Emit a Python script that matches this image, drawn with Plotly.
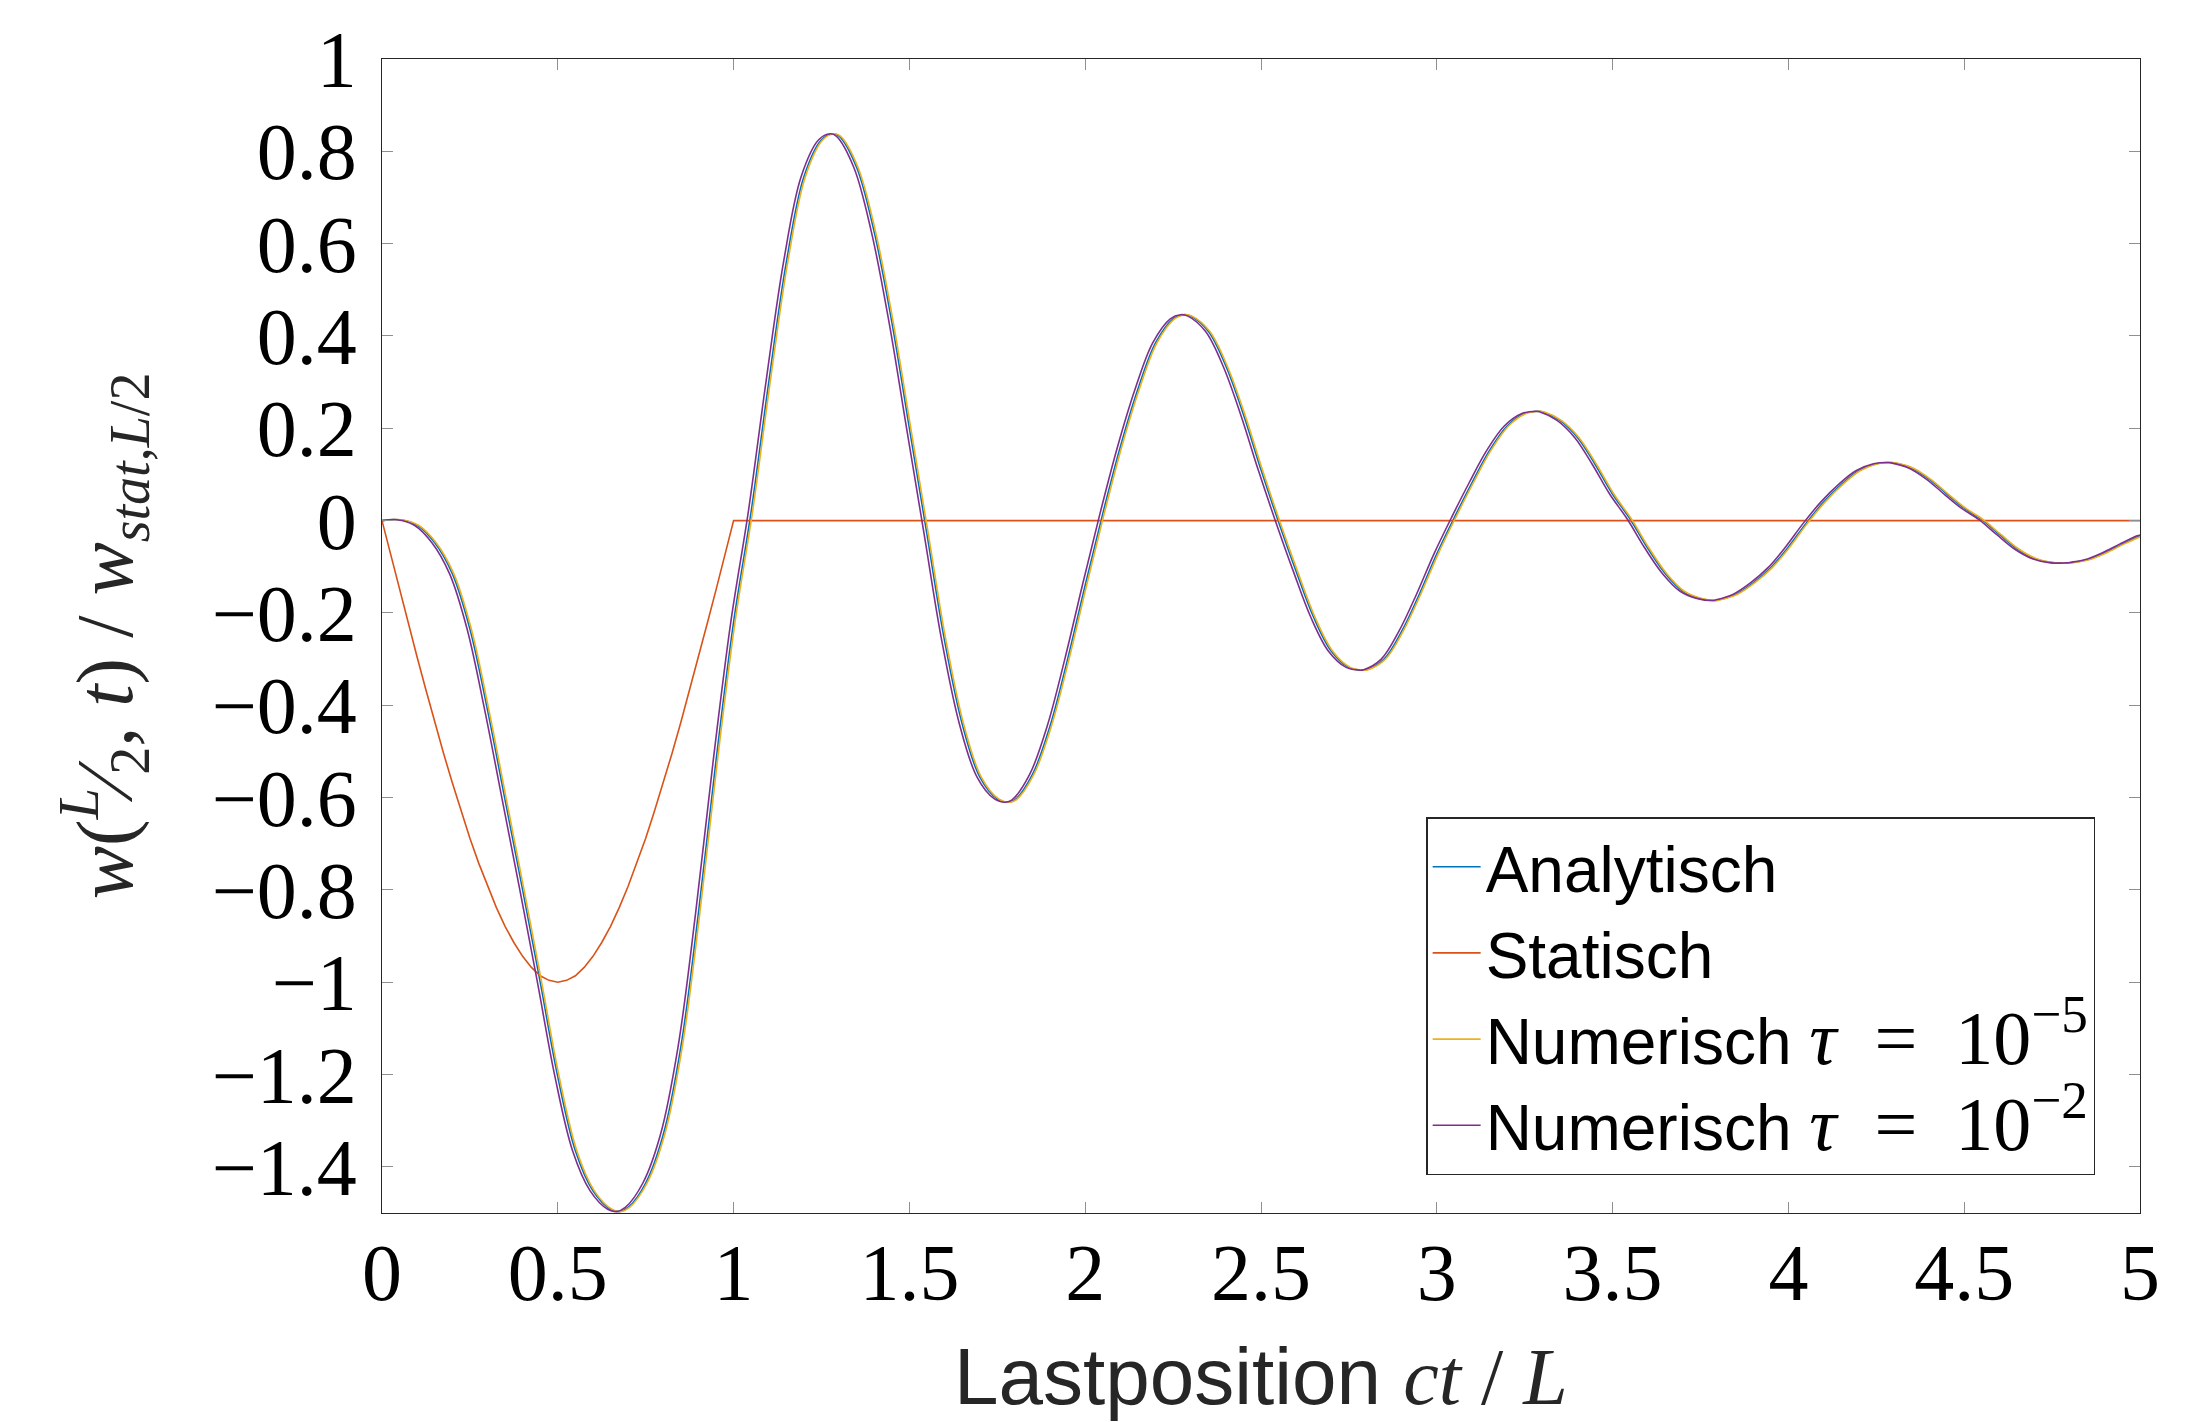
import plotly.graph_objects as go

# ---------------- data ----------------
t_analytisch = [0, 0.05, 0.1, 0.15, 0.2, 0.25, 0.3, 0.35, 0.4, 0.45, 0.5, 0.55, 0.6, 0.65, 0.675, 0.7,
                0.75, 0.8, 0.85, 0.9, 0.95, 1.0, 1.05, 1.1, 1.15, 1.2, 1.25, 1.283, 1.3, 1.35, 1.4,
                1.45, 1.5, 1.55, 1.6, 1.65, 1.7, 1.75, 1.781, 1.8, 1.85, 1.9, 1.95, 2.0, 2.05, 2.1,
                2.15, 2.2, 2.25, 2.279, 2.3, 2.35, 2.4, 2.45, 2.5, 2.55, 2.6, 2.65, 2.7, 2.75, 2.788,
                2.8, 2.85, 2.9, 2.95, 3.0, 3.05, 3.1, 3.15, 3.2, 3.25, 3.29, 3.3, 3.35, 3.4, 3.45,
                3.5, 3.55, 3.6, 3.65, 3.7, 3.75, 3.793, 3.8, 3.85, 3.9, 3.95, 4.0, 4.05, 4.1, 4.15,
                4.2, 4.25, 4.29, 4.3, 4.35, 4.4, 4.45, 4.5, 4.55, 4.6, 4.65, 4.7, 4.75, 4.793, 4.8,
                4.85, 4.9, 4.95, 5.0]
w_analytisch = [0.0, 0.002, -0.010, -0.048, -0.115, -0.235, -0.410, -0.605, -0.800, -1.000, -1.205,
                -1.365, -1.452, -1.492, -1.497, -1.488, -1.435, -1.330, -1.140, -0.850, -0.520,
                -0.220, 0.020, 0.300, 0.560, 0.745, 0.825, 0.838, 0.833, 0.765, 0.625, 0.430, 0.200,
                -0.030, -0.260, -0.440, -0.555, -0.603, -0.610, -0.605, -0.550, -0.445, -0.300,
                -0.140, 0.015, 0.160, 0.285, 0.385, 0.437, 0.446, 0.443, 0.410, 0.335, 0.230, 0.110,
                -0.003, -0.110, -0.210, -0.283, -0.318, -0.324, -0.323, -0.300, -0.240, -0.160,
                -0.072, 0.007, 0.082, 0.152, 0.205, 0.232, 0.237, 0.236, 0.217, 0.180, 0.122, 0.057,
                0.003, -0.060, -0.115, -0.153, -0.169, -0.173, -0.172, -0.160, -0.135, -0.102,
                -0.057, -0.006, 0.040, 0.078, 0.108, 0.123, 0.126, 0.125, 0.114, 0.090, 0.058,
                0.027, 0.002, -0.030, -0.061, -0.082, -0.091, -0.092, -0.0915, -0.085, -0.070,
                -0.051, -0.033]

t_statisch = [0, 0.025, 0.05, 0.075, 0.1, 0.125, 0.15, 0.175, 0.2, 0.225, 0.25, 0.275, 0.3, 0.325,
              0.35, 0.375, 0.4, 0.425, 0.45, 0.475, 0.5, 0.525, 0.55, 0.575, 0.6, 0.625, 0.65,
              0.675, 0.7, 0.725, 0.75, 0.775, 0.8, 0.825, 0.85, 0.875, 0.9, 0.925, 0.95, 0.975,
              1.0, 5.0]
w_statisch = [0.0, -0.075, -0.150, -0.223, -0.296, -0.367, -0.437, -0.504, -0.568, -0.629, -0.688,
              -0.742, -0.792, -0.838, -0.879, -0.914, -0.944, -0.968, -0.986, -0.996, -1.0,
              -0.996, -0.986, -0.968, -0.944, -0.914, -0.879, -0.838, -0.792, -0.742, -0.688,
              -0.629, -0.568, -0.504, -0.437, -0.367, -0.296, -0.223, -0.150, -0.075, 0.0, 0.0]

t_num_5 = [0, 0.054, 0.104, 0.154, 0.204, 0.254, 0.304, 0.354, 0.404, 0.454, 0.504, 0.554, 0.604,
           0.654, 0.679, 0.704, 0.754, 0.804, 0.854, 0.904, 0.954, 1.004, 1.054, 1.104, 1.154,
           1.204, 1.254, 1.287, 1.304, 1.354, 1.404, 1.454, 1.504, 1.554, 1.604, 1.654, 1.704,
           1.754, 1.785, 1.804, 1.854, 1.904, 1.954, 2.004, 2.054, 2.104, 2.154, 2.204, 2.254,
           2.283, 2.304, 2.354, 2.404, 2.454, 2.504, 2.554, 2.604, 2.654, 2.704, 2.754, 2.792,
           2.804, 2.854, 2.904, 2.954, 3.004, 3.054, 3.104, 3.154, 3.204, 3.254, 3.294, 3.304,
           3.354, 3.404, 3.454, 3.504, 3.554, 3.604, 3.654, 3.704, 3.754, 3.797, 3.804, 3.854,
           3.904, 3.954, 4.004, 4.054, 4.104, 4.154, 4.204, 4.254, 4.294, 4.304, 4.354, 4.404,
           4.454, 4.504, 4.554, 4.604, 4.654, 4.704, 4.754, 4.797, 4.804, 4.854, 4.904, 4.954,
           5.0]
w_num_5 = [0.0, 0.002, -0.010, -0.048, -0.115, -0.235, -0.410, -0.605, -0.800, -1.000, -1.205,
           -1.365, -1.452, -1.492, -1.497, -1.488, -1.435, -1.330, -1.140, -0.850, -0.520,
           -0.220, 0.020, 0.300, 0.560, 0.745, 0.825, 0.838, 0.833, 0.765, 0.625, 0.430, 0.200,
           -0.030, -0.260, -0.440, -0.555, -0.603, -0.610, -0.605, -0.550, -0.445, -0.300,
           -0.140, 0.015, 0.160, 0.285, 0.385, 0.437, 0.446, 0.443, 0.410, 0.335, 0.230, 0.110,
           -0.003, -0.110, -0.210, -0.283, -0.318, -0.324, -0.323, -0.300, -0.240, -0.160,
           -0.072, 0.007, 0.082, 0.152, 0.205, 0.232, 0.237, 0.236, 0.217, 0.180, 0.122, 0.057,
           0.003, -0.060, -0.115, -0.153, -0.169, -0.173, -0.172, -0.160, -0.135, -0.102,
           -0.057, -0.006, 0.040, 0.078, 0.108, 0.123, 0.126, 0.125, 0.114, 0.090, 0.058,
           0.027, 0.002, -0.030, -0.061, -0.082, -0.091, -0.092, -0.0915, -0.085, -0.070,
           -0.051, -0.035]

t_num_2 = [0, 0.042, 0.092, 0.142, 0.192, 0.242, 0.292, 0.342, 0.392, 0.442, 0.492, 0.542, 0.592,
           0.642, 0.667, 0.692, 0.742, 0.792, 0.842, 0.892, 0.942, 0.992, 1.042, 1.092, 1.142,
           1.192, 1.242, 1.275, 1.292, 1.342, 1.392, 1.442, 1.492, 1.542, 1.592, 1.642, 1.692,
           1.742, 1.773, 1.792, 1.842, 1.892, 1.942, 1.992, 2.042, 2.092, 2.142, 2.192, 2.242,
           2.271, 2.292, 2.342, 2.392, 2.442, 2.492, 2.542, 2.592, 2.642, 2.692, 2.742, 2.780,
           2.792, 2.842, 2.892, 2.942, 2.992, 3.042, 3.092, 3.142, 3.192, 3.242, 3.282, 3.292,
           3.342, 3.392, 3.442, 3.492, 3.542, 3.592, 3.642, 3.692, 3.742, 3.785, 3.792, 3.842,
           3.892, 3.942, 3.992, 4.042, 4.092, 4.142, 4.192, 4.242, 4.282, 4.292, 4.342, 4.392,
           4.442, 4.492, 4.542, 4.592, 4.642, 4.692, 4.742, 4.785, 4.792, 4.842, 4.892, 4.942,
           4.992, 5.0]
w_num_2 = [0.0, 0.002, -0.010, -0.048, -0.115, -0.235, -0.410, -0.605, -0.800, -1.000, -1.205,
           -1.365, -1.452, -1.492, -1.497, -1.488, -1.435, -1.330, -1.140, -0.850, -0.520,
           -0.220, 0.020, 0.300, 0.560, 0.745, 0.825, 0.838, 0.833, 0.765, 0.625, 0.430, 0.200,
           -0.030, -0.260, -0.440, -0.555, -0.603, -0.610, -0.605, -0.550, -0.445, -0.300,
           -0.140, 0.015, 0.160, 0.285, 0.385, 0.437, 0.446, 0.443, 0.410, 0.335, 0.230, 0.110,
           -0.003, -0.110, -0.210, -0.283, -0.318, -0.324, -0.323, -0.300, -0.240, -0.160,
           -0.072, 0.007, 0.082, 0.152, 0.205, 0.232, 0.237, 0.236, 0.217, 0.180, 0.122, 0.057,
           0.003, -0.060, -0.115, -0.153, -0.169, -0.173, -0.172, -0.160, -0.135, -0.102,
           -0.057, -0.006, 0.040, 0.078, 0.108, 0.123, 0.126, 0.125, 0.114, 0.090, 0.058,
           0.027, 0.002, -0.030, -0.061, -0.082, -0.091, -0.092, -0.0915, -0.085, -0.070,
           -0.051, -0.033, -0.031]

x_tickvals = [0, 0.5, 1, 1.5, 2, 2.5, 3, 3.5, 4, 4.5, 5]
x_ticktext = ["0", "0.5", "1", "1.5", "2", "2.5", "3", "3.5", "4", "4.5", "5"]
y_tickvals = [1, 0.8, 0.6, 0.4, 0.2, 0, -0.2, -0.4, -0.6, -0.8, -1, -1.2, -1.4]
y_ticktext = ["1", "0.8", "0.6", "0.4", "0.2", "0", "\u22120.2", "\u22120.4", "\u22120.6",
              "\u22120.8", "\u22121", "\u22121.2", "\u22121.4"]

# ---------------- styling ----------------
SERIF = "Liberation Serif"
SANS = "Liberation Sans"
C_BLUE = "#0072BD"
C_ORANGE = "#D95319"
C_YELLOW = "#EDB120"
C_PURPLE = "#7E2F8E"

def ser(txt, size=None):
    st = "font-family:Liberation Serif"
    if size:
        st += ";font-size:%dpx" % size
    return "<span style='" + st + "'>" + txt + "</span>"

def tau_label(exp):
    return "Numerisch " + ser("<i>\u03c4</i>\u2002=\u200210<sup>\u2212" + exp + "</sup>", 76)

spline = dict(shape="spline", smoothing=1.0)
fig = go.Figure()
fig.add_trace(go.Scatter(x=t_analytisch, y=w_analytisch, mode="lines", name="Analytisch",
                         line=dict(color=C_BLUE, width=1.6, **spline)))
fig.add_trace(go.Scatter(x=t_statisch, y=w_statisch, mode="lines", name="Statisch",
                         line=dict(color=C_ORANGE, width=1.6)))
fig.add_trace(go.Scatter(x=t_num_5, y=w_num_5, mode="lines", name=tau_label("5"),
                         line=dict(color=C_YELLOW, width=1.6, **spline)))
fig.add_trace(go.Scatter(x=t_num_2, y=w_num_2, mode="lines", name=tau_label("2"),
                         line=dict(color=C_PURPLE, width=1.6, **spline)))

axis_common = dict(
    showgrid=False, zeroline=False, showline=True, linecolor="#262626", linewidth=1.4,
    mirror="ticks", ticks="inside", ticklen=11, tickwidth=1.3, tickcolor="#8f8f8f",
    tickfont=dict(family=SERIF, size=80, color="#000000"),
)

# the page body adds an 8 px offset, so the figure is 8 px smaller and margins shifted
fig.update_layout(
    width=2200, height=1414,
    margin=dict(l=374, r=68, t=51, b=209, autoexpand=False),
    paper_bgcolor="white", plot_bgcolor="white",
    xaxis=dict(range=[0, 5], tickvals=x_tickvals, ticktext=x_ticktext, ticklabelstandoff=-10,
               **axis_common),
    yaxis=dict(range=[-1.5, 1], tickvals=y_tickvals, ticktext=y_ticktext, ticklabelstandoff=8,
               **axis_common),
    showlegend=True,
    legend=dict(x=0.594, y=0.343, xanchor="left", yanchor="top",
                bgcolor="white", bordercolor="#262626", borderwidth=1.4,
                font=dict(family=SANS, size=64, color="#000000"),
                itemwidth=48, tracegroupgap=0),
    annotations=[
        dict(text="Lastposition " + ser("<i>ct</i> / <i>L</i>"), xref="paper", yref="paper",
             x=0.5, y=-0.142, xanchor="center", yanchor="middle", showarrow=False,
             font=dict(family=SANS, size=80, color="#262626")),
        dict(text=ser("<i>w</i>(<sup><i>L</i></sup>\u2044<sub>2</sub>, <i>t</i>) / <i>w</i><sub><i>stat</i>,<i>L</i>/2</sub>"),
             xref="paper", yref="paper", x=-0.158, y=0.5, xanchor="center", yanchor="middle",
             textangle=-90, showarrow=False,
             font=dict(family=SERIF, size=80, color="#262626")),
    ],
)

fig.write_html("out.html")
